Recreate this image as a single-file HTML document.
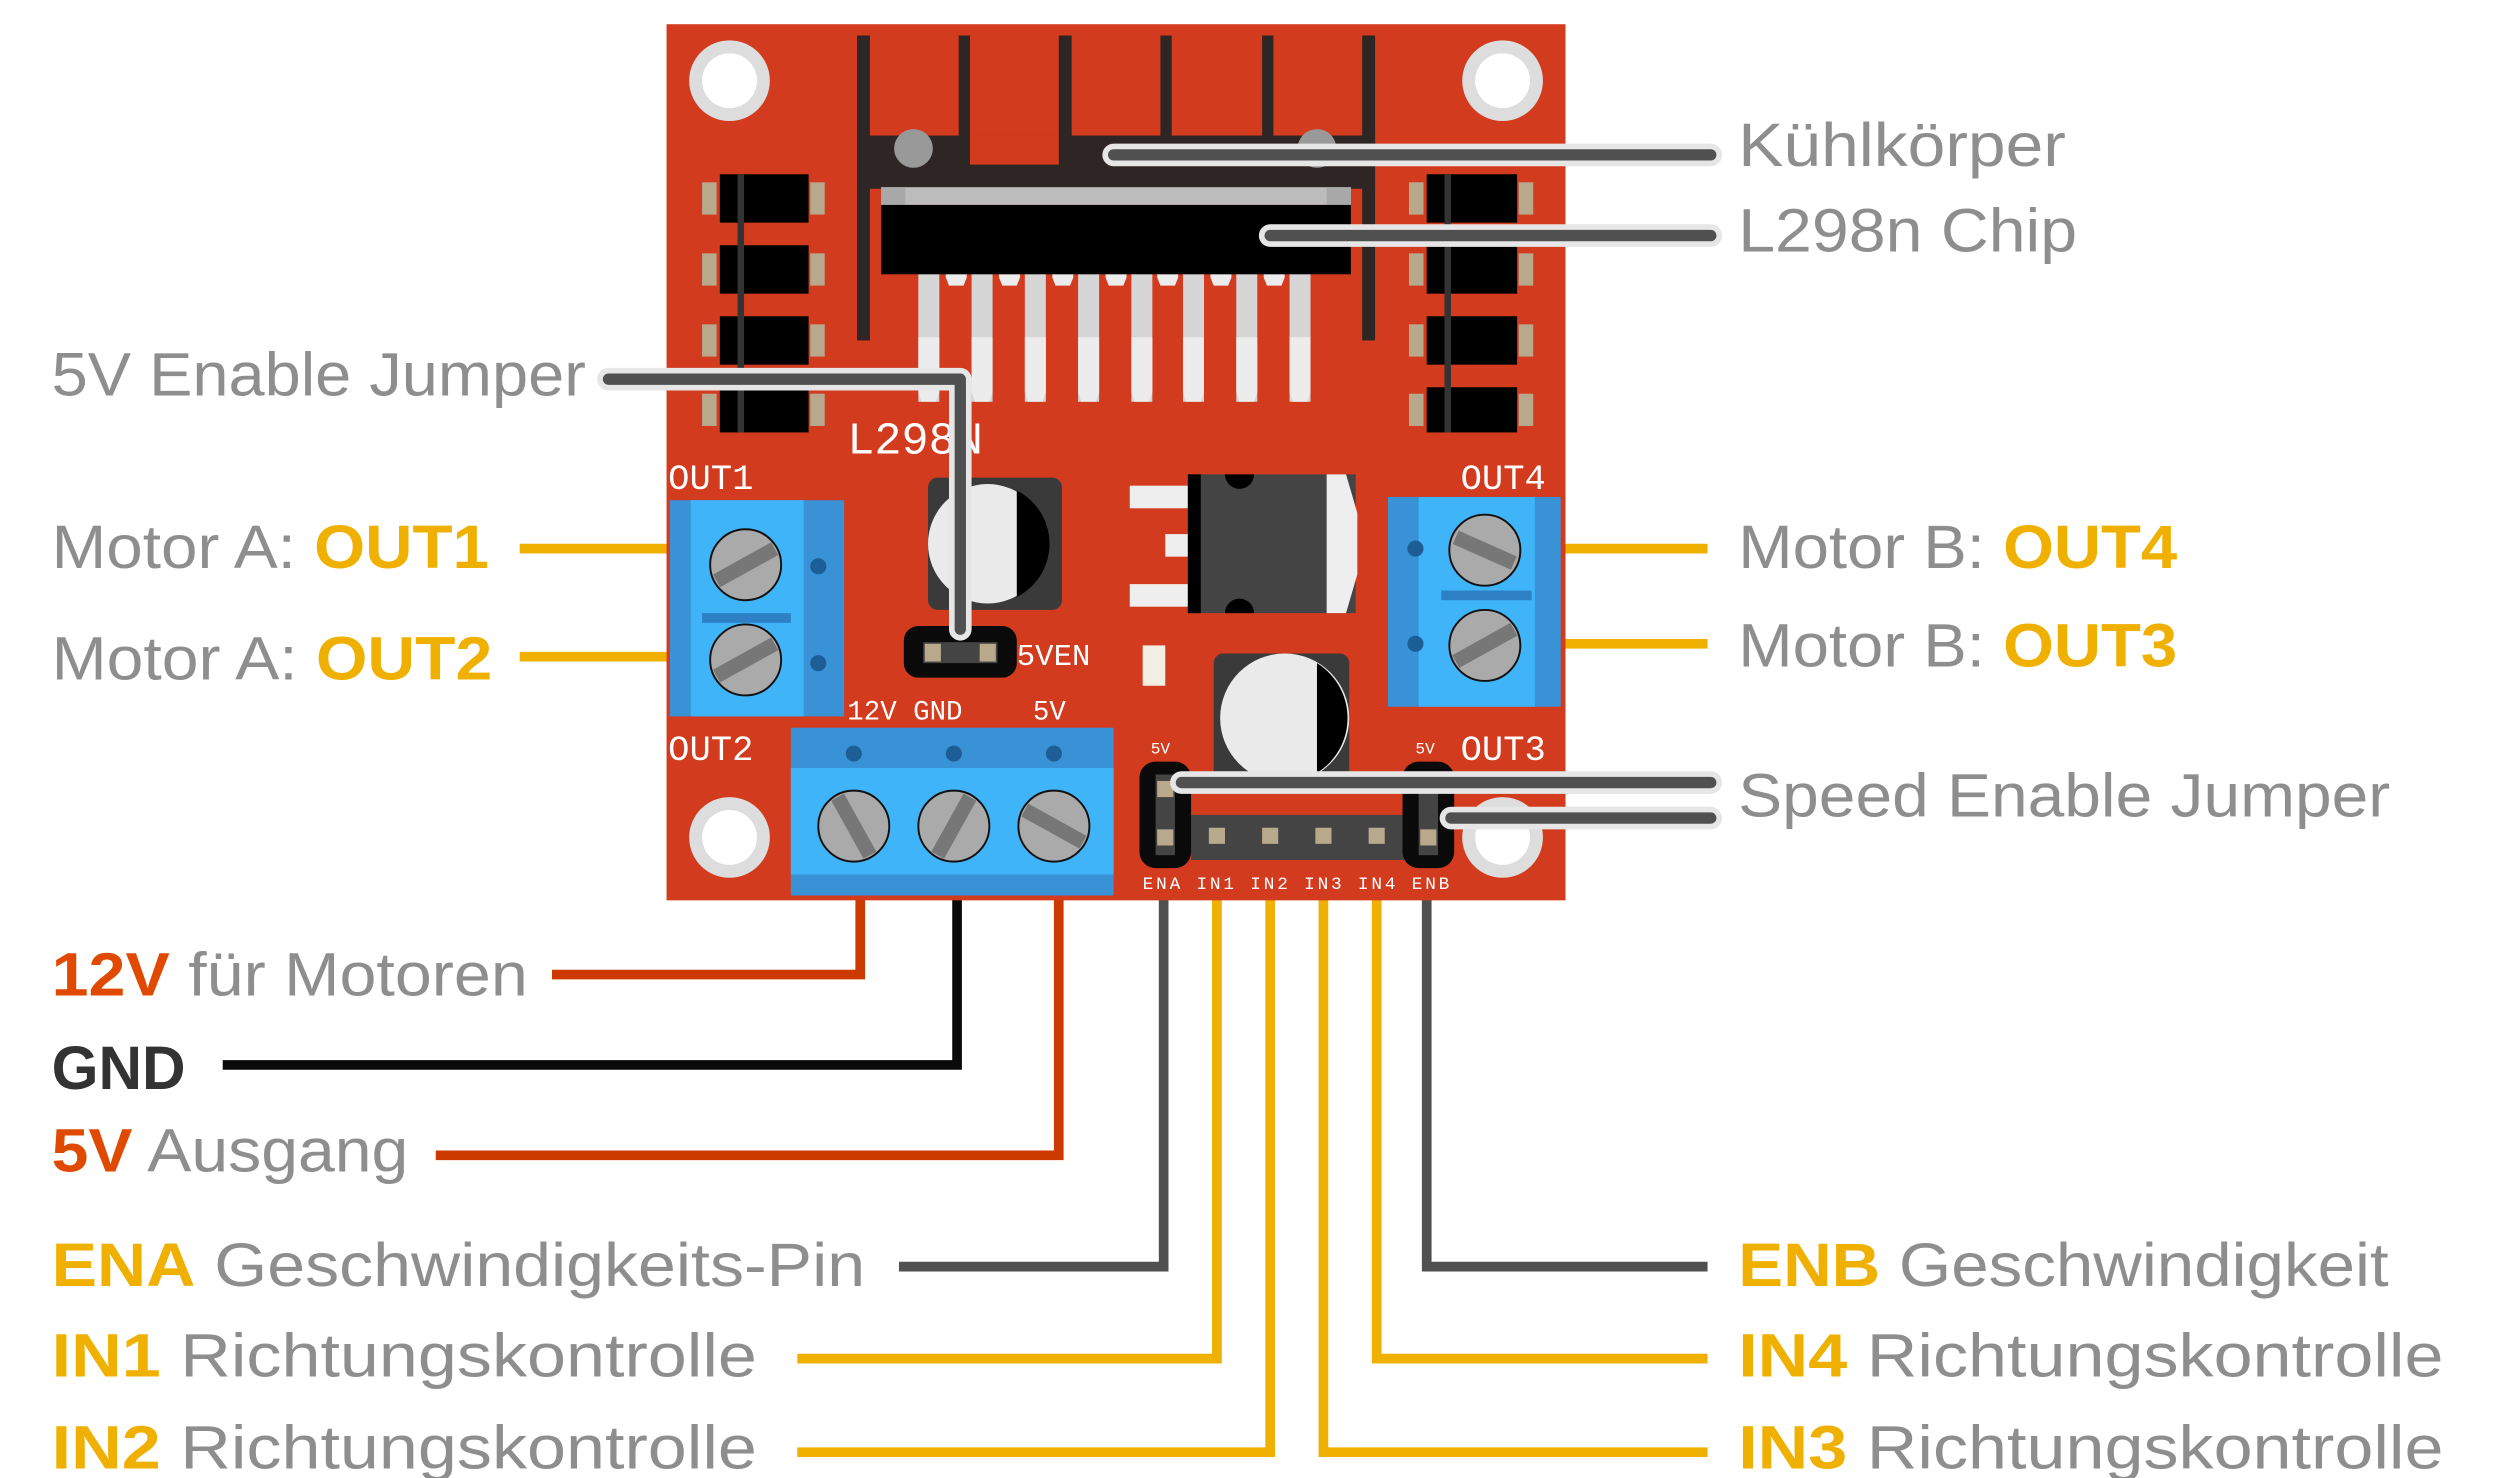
<!DOCTYPE html>
<html><head><meta charset="utf-8"><style>
html,body{margin:0;padding:0;background:#fff;}
svg{display:block;}
text{font-family:"Liberation Sans",sans-serif;}
.lbl{font-size:38px;fill:#8e8e8e;}
.b{font-weight:bold;}
.pcb{font-family:"Liberation Mono",monospace;fill:#fff;}
</style></head><body>
<svg width="2500" height="1478" viewBox="0 0 1549 916" preserveAspectRatio="none" xmlns="http://www.w3.org/2000/svg">
<rect width="1549" height="916" fill="#fff"/>
<!-- bottom wires -->
<g fill="none" stroke-width="6">
<polyline points="533,555 533,604 342,604" stroke="#cc3a00"/>
<polyline points="593,555 593,660 138,660" stroke="#0a0a0a"/>
<polyline points="656,555 656,716 270,716" stroke="#cc3a00"/>
<polyline points="721,555 721,785 557,785" stroke="#505050"/>
<polyline points="754,555 754,842 494,842" stroke="#f0b000"/>
<polyline points="787,555 787,900 494,900" stroke="#f0b000"/>
<polyline points="820,555 820,900 1058,900" stroke="#f0b000"/>
<polyline points="853,555 853,842 1058,842" stroke="#f0b000"/>
<polyline points="884,555 884,785 1058,785" stroke="#505050"/>
<line x1="322" y1="340" x2="420" y2="340" stroke="#f0b000"/>
<line x1="322" y1="407" x2="420" y2="407" stroke="#f0b000"/>
<line x1="962" y1="340" x2="1058" y2="340" stroke="#f0b000"/>
<line x1="962" y1="399" x2="1058" y2="399" stroke="#f0b000"/>
</g>
<!-- board -->
<rect x="413" y="15" width="557" height="543" fill="#d33b1f"/>
<g fill="#ddd"><circle cx="452" cy="50" r="25"/><circle cx="931" cy="50" r="25"/><circle cx="452" cy="519" r="25"/><circle cx="931" cy="519" r="25"/></g>
<g fill="#fff"><circle cx="452" cy="50" r="17"/><circle cx="931" cy="50" r="17"/><circle cx="452" cy="519" r="17"/><circle cx="931" cy="519" r="17"/></g>
<!-- heatsink -->
<g fill="#2e2624">
<rect x="531" y="22" width="8" height="189"/>
<rect x="844" y="22" width="8" height="189"/>
<rect x="594" y="22" width="7" height="65"/>
<rect x="656" y="22" width="8" height="65"/>
<rect x="719" y="22" width="7" height="65"/>
<rect x="782" y="22" width="7" height="65"/>
<rect x="531" y="84" width="321" height="33"/>
</g>
<rect x="601" y="84" width="55" height="18" fill="#d33b1f"/>
<circle cx="566" cy="92" r="12" fill="#999"/><circle cx="816" cy="92" r="12" fill="#999"/>
<!-- chip pins -->
<g fill="#d6d6d6">
<rect x="569" y="168" width="13" height="81"/><rect x="602" y="168" width="13" height="81"/><rect x="635" y="168" width="13" height="81"/><rect x="668" y="168" width="13" height="81"/>
<rect x="701" y="168" width="13" height="81"/><rect x="733" y="168" width="13" height="81"/><rect x="766" y="168" width="13" height="81"/><rect x="799" y="168" width="13" height="81"/>
</g>
<g fill="#ececec">
<path d="M569,209h13v34l-2,6h-9l-2,-6z"/><path d="M602,209h13v34l-2,6h-9l-2,-6z"/><path d="M635,209h13v34l-2,6h-9l-2,-6z"/><path d="M668,209h13v34l-2,6h-9l-2,-6z"/>
<path d="M701,209h13v34l-2,6h-9l-2,-6z"/><path d="M733,209h13v34l-2,6h-9l-2,-6z"/><path d="M766,209h13v34l-2,6h-9l-2,-6z"/><path d="M799,209h13v34l-2,6h-9l-2,-6z"/>
<path d="M586,168h13v4l-2,5h-9l-2,-5z"/><path d="M619,168h13v4l-2,5h-9l-2,-5z"/><path d="M652,168h13v4l-2,5h-9l-2,-5z"/><path d="M685,168h13v4l-2,5h-9l-2,-5z"/>
<path d="M717,168h13v4l-2,5h-9l-2,-5z"/><path d="M750,168h13v4l-2,5h-9l-2,-5z"/><path d="M783,168h13v4l-2,5h-9l-2,-5z"/>
</g>
<rect x="546" y="116" width="291" height="11" fill="#bcbcbc"/>
<rect x="546" y="116" width="15" height="11" fill="#a8a8a8"/><rect x="822" y="116" width="15" height="11" fill="#a8a8a8"/>
<rect x="546" y="127" width="291" height="43" fill="#000"/>
<!-- diodes -->
<g fill="#b8a88c">
<rect x="435" y="113" width="9" height="20"/><rect x="502" y="113" width="9" height="20"/>
<rect x="435" y="157" width="9" height="20"/><rect x="502" y="157" width="9" height="20"/>
<rect x="435" y="201" width="9" height="20"/><rect x="502" y="201" width="9" height="20"/>
<rect x="435" y="244" width="9" height="20"/><rect x="502" y="244" width="9" height="20"/>
<rect x="873" y="113" width="9" height="20"/><rect x="941" y="113" width="9" height="20"/>
<rect x="873" y="157" width="9" height="20"/><rect x="941" y="157" width="9" height="20"/>
<rect x="873" y="201" width="9" height="20"/><rect x="941" y="201" width="9" height="20"/>
<rect x="873" y="244" width="9" height="20"/><rect x="941" y="244" width="9" height="20"/>
</g>
<g fill="#000">
<rect x="446" y="108" width="55" height="30"/><rect x="446" y="152" width="55" height="30"/><rect x="446" y="196" width="55" height="30"/><rect x="446" y="240" width="55" height="28"/>
<rect x="884" y="108" width="56" height="30"/><rect x="884" y="152" width="56" height="30"/><rect x="884" y="196" width="56" height="30"/><rect x="884" y="240" width="56" height="28"/>
</g>
<g fill="#333"><rect x="457" y="108" width="4" height="160"/><rect x="895" y="108" width="4" height="160"/></g>
<!-- capacitors -->
<rect x="575" y="296" width="83" height="82" rx="6" fill="#3a3a3a"/>
<circle cx="612" cy="337" r="37" fill="#eaeaea"/>
<path d="M630,304 A37,37 0 0 1 630,370 Z" fill="#000"/>
<rect x="752" y="405" width="84" height="80" rx="6" fill="#3a3a3a"/>
<circle cx="796" cy="445" r="40" fill="#eaeaea"/>
<path d="M816,411 A40,40 0 0 1 816,479 Z" fill="#000"/>
<!-- regulator -->
<g fill="#eee"><rect x="700" y="301" width="40" height="14"/><rect x="722" y="331" width="18" height="14"/><rect x="700" y="362" width="40" height="14"/></g>
<rect x="736" y="294" width="104" height="86" fill="#444"/>
<rect x="736" y="294" width="8" height="86" fill="#000"/>
<path d="M822,294 L834,294 L841,318 L841,356 L834,380 L822,380 Z" fill="#eee"/>
<path d="M759,294 A9,9 0 0 0 777,294 Z" fill="#000"/><path d="M759,380 A9,9 0 0 1 777,380 Z" fill="#000"/>
<rect x="708" y="400" width="14" height="25" fill="#f3efe2"/>
<!-- jumper 5VEN -->
<rect x="560" y="388" width="70" height="32" rx="9" fill="#0a0a0a"/>
<rect x="572" y="398" width="46" height="13" fill="#444"/>
<rect x="573" y="399" width="10" height="11" fill="#b8a88c"/><rect x="607" y="399" width="10" height="11" fill="#b8a88c"/>
<!-- terminals -->
<rect x="415" y="310" width="108" height="134" fill="#3a92d6"/>
<rect x="428" y="310" width="70" height="134" fill="#3fb4f8"/>
<rect x="435" y="380" width="55" height="6" fill="#2d80c4"/>
<circle cx="507" cy="351" r="5" fill="#1e5e96"/><circle cx="507" cy="411" r="5" fill="#1e5e96"/>
<rect x="860" y="308" width="107" height="130" fill="#3a92d6"/>
<rect x="879" y="308" width="72" height="130" fill="#3fb4f8"/>
<rect x="893" y="366" width="56" height="6" fill="#2d80c4"/>
<circle cx="877" cy="340" r="5" fill="#1e5e96"/><circle cx="877" cy="399" r="5" fill="#1e5e96"/>
<rect x="490" y="451" width="200" height="104" fill="#3a92d6"/>
<rect x="490" y="476" width="200" height="66" fill="#3fb4f8"/>
<g fill="#1e5e96"><circle cx="529" cy="467" r="5"/><circle cx="591" cy="467" r="5"/><circle cx="653" cy="467" r="5"/></g>
<g stroke="#111" stroke-width="1.2" fill="#aaa">
<circle cx="462" cy="350" r="22"/><circle cx="462" cy="409" r="22"/>
<circle cx="920" cy="341" r="22"/><circle cx="920" cy="400" r="22"/>
<circle cx="529" cy="512" r="22"/><circle cx="591" cy="512" r="22"/><circle cx="653" cy="512" r="22"/>
</g>
<g stroke="#777" stroke-width="9">
<line x1="444" y1="360" x2="480" y2="340"/><line x1="444" y1="419" x2="480" y2="399"/>
<line x1="902" y1="333" x2="938" y2="349"/><line x1="902" y1="410" x2="938" y2="390"/>
<line x1="519" y1="494" x2="539" y2="530"/><line x1="581" y1="530" x2="601" y2="494"/><line x1="635" y1="502" x2="671" y2="522"/>
</g>
<!-- header -->
<path d="M738,505 L870,505 L870,533 L738,533 Z" fill="#444"/>
<g fill="#b8a88c"><rect x="749" y="513" width="10" height="10"/><rect x="782" y="513" width="10" height="10"/><rect x="815" y="513" width="10" height="10"/><rect x="848" y="513" width="10" height="10"/></g>
<rect x="706" y="472" width="32" height="66" rx="10" fill="#0a0a0a"/>
<rect x="869" y="472" width="32" height="66" rx="10" fill="#0a0a0a"/>
<rect x="716" y="480" width="12" height="50" fill="#444"/><rect x="879" y="480" width="12" height="50" fill="#444"/>
<g fill="#b8a88c"><rect x="717" y="484" width="10" height="10"/><rect x="717" y="514" width="10" height="10"/><rect x="880" y="514" width="10" height="10"/></g>
<!-- pcb labels -->
<text class="pcb" x="525" y="281" font-size="28">L298N</text>
<text class="pcb" x="414" y="303" font-size="22">OUT1</text>
<text class="pcb" x="905" y="303" font-size="22">OUT4</text>
<text class="pcb" x="414" y="471" font-size="22">OUT2</text>
<text class="pcb" x="905" y="471" font-size="22">OUT3</text>
<text class="pcb" x="630" y="412" font-size="19">5VEN</text>
<text class="pcb" x="525" y="446" font-size="17">12V GND</text>
<text class="pcb" x="640" y="446" font-size="17">5V</text>
<text class="pcb" x="713" y="467" font-size="10">5V</text>
<text class="pcb" x="877" y="467" font-size="10">5V</text>
<text class="pcb" x="708" y="551" font-size="11" textLength="190">ENA IN1 IN2 IN3 IN4 ENB</text>
<!-- callout lines -->
<g fill="none" stroke-linecap="round" stroke-linejoin="round">
<g stroke="#e6e6e6" stroke-width="14">
<line x1="690" y1="96" x2="1060" y2="96"/><line x1="787" y1="146" x2="1060" y2="146"/>
<polyline points="377,235 595,235 595,390"/>
<line x1="732" y1="485" x2="1060" y2="485"/><line x1="899" y1="507" x2="1060" y2="507"/>
</g>
<g stroke="#505050" stroke-width="7">
<line x1="690" y1="96" x2="1060" y2="96"/><line x1="787" y1="146" x2="1060" y2="146"/>
<polyline points="377,235 595,235 595,390"/>
<line x1="732" y1="485" x2="1060" y2="485"/><line x1="899" y1="507" x2="1060" y2="507"/>
</g>
</g>
<!-- labels -->
<text class="lbl" x="1077" y="103" textLength="203" lengthAdjust="spacingAndGlyphs">Kühlkörper</text>
<text class="lbl" x="1077" y="156" textLength="210" lengthAdjust="spacingAndGlyphs">L298n Chip</text>
<text class="lbl" x="32" y="245" textLength="331" lengthAdjust="spacingAndGlyphs">5V Enable Jumper</text>
<text class="lbl" x="32" y="352" textLength="271" lengthAdjust="spacingAndGlyphs">Motor A: <tspan class="b" fill="#f0b000">OUT1</tspan></text>
<text class="lbl" x="32" y="421" textLength="273" lengthAdjust="spacingAndGlyphs">Motor A: <tspan class="b" fill="#f0b000">OUT2</tspan></text>
<text class="lbl" x="1077" y="352" textLength="272" lengthAdjust="spacingAndGlyphs">Motor B: <tspan class="b" fill="#f0b000">OUT4</tspan></text>
<text class="lbl" x="1077" y="413" textLength="272" lengthAdjust="spacingAndGlyphs">Motor B: <tspan class="b" fill="#f0b000">OUT3</tspan></text>
<text class="lbl" x="1077" y="506" textLength="404" lengthAdjust="spacingAndGlyphs">Speed Enable Jumper</text>
<text class="lbl" x="32" y="617" textLength="295" lengthAdjust="spacingAndGlyphs"><tspan class="b" fill="#e04a00">12V</tspan> für Motoren</text>
<text class="lbl b" x="32" y="675" style="fill:#333" textLength="83" lengthAdjust="spacingAndGlyphs">GND</text>
<text class="lbl" x="32" y="726" textLength="221" lengthAdjust="spacingAndGlyphs"><tspan class="b" fill="#e04a00">5V</tspan> Ausgang</text>
<text class="lbl" x="32" y="797" textLength="504" lengthAdjust="spacingAndGlyphs"><tspan class="b" fill="#f0b000">ENA</tspan> Geschwindigkeits-Pin</text>
<text class="lbl" x="32" y="853" textLength="437" lengthAdjust="spacingAndGlyphs"><tspan class="b" fill="#f0b000">IN1</tspan> Richtungskontrolle</text>
<text class="lbl" x="32" y="910" textLength="437" lengthAdjust="spacingAndGlyphs"><tspan class="b" fill="#f0b000">IN2</tspan> Richtungskontrolle</text>
<text class="lbl" x="1077" y="797" textLength="403" lengthAdjust="spacingAndGlyphs"><tspan class="b" fill="#f0b000">ENB</tspan> Geschwindigkeit</text>
<text class="lbl" x="1077" y="853" textLength="437" lengthAdjust="spacingAndGlyphs"><tspan class="b" fill="#f0b000">IN4</tspan> Richtungskontrolle</text>
<text class="lbl" x="1077" y="910" textLength="437" lengthAdjust="spacingAndGlyphs"><tspan class="b" fill="#f0b000">IN3</tspan> Richtungskontrolle</text>
</svg>
</body></html>
